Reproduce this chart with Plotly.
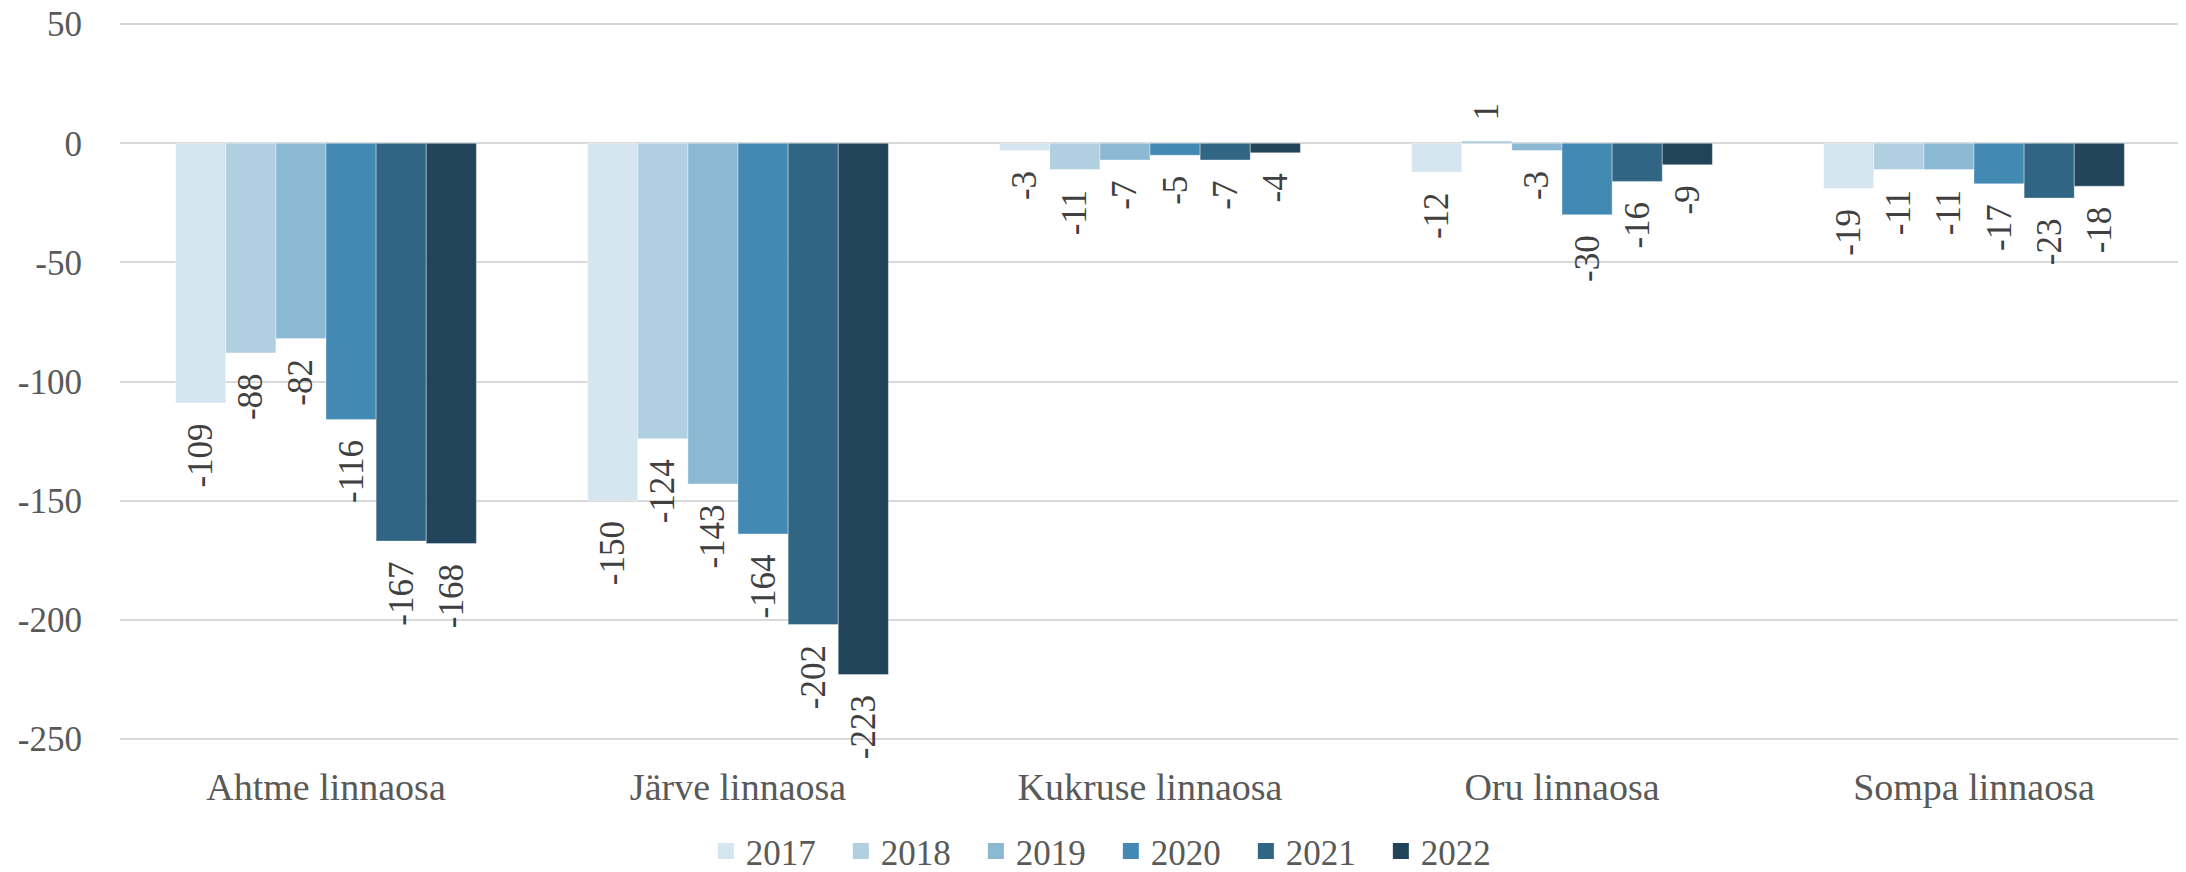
import plotly.graph_objects as go

# Linnaosad ja aastad
districts = ["Ahtme linnaosa", "Järve linnaosa", "Kukruse linnaosa", "Oru linnaosa", "Sompa linnaosa"]
years = ["2017", "2018", "2019", "2020", "2021", "2022"]

# väärtused aastate kaupa (linnaosade järjekorras)
v2017 = [-109, -150, -3, -12, -19]
v2018 = [-88, -124, -11, 1, -11]
v2019 = [-82, -143, -7, -3, -11]
v2020 = [-116, -164, -5, -30, -17]
v2021 = [-167, -202, -7, -16, -23]
v2022 = [-168, -223, -4, -9, -18]

y_ticks = [50, 0, -50, -100, -150, -200, -250]

series = [v2017, v2018, v2019, v2020, v2021, v2022]
colors = ["#D6E6F0", "#B0CFE1", "#8BB8D3", "#4289B4", "#306683", "#21445A"]

FONT = "Liberation Serif"
NB = "\u00a0"


def label(v):
    # väike vahe tulba otsa ja sildi vahel
    return f"{v}{NB}{NB}" if v < 0 else f"{NB}{NB}{v}"


fig = go.Figure()

for year, vals, col in zip(years, series, colors):
    fig.add_trace(go.Bar(
        x=districts,
        y=vals,
        name=year,
        legendgroup=year,
        showlegend=False,
        marker=dict(color=col, line=dict(color="rgba(255,255,255,0.35)", width=1)),
        text=[label(v) for v in vals],
        textposition="outside",
        textangle=-90,
        constraintext="none",
        cliponaxis=False,
        textfont=dict(family=FONT, size=35, color="#404040"),
    ))

# legendi ruudud
for year, col in zip(years, colors):
    fig.add_trace(go.Scatter(
        x=[None], y=[None],
        mode="markers",
        name=year,
        legendgroup=year,
        marker=dict(symbol="square", size=21, color=col),
        showlegend=True,
    ))

# lehe 8px ääris on arvestatud; telje ulatus veidi laiem, et 50 ja -250 joon jääks näha
fig.update_layout(
    width=2178,
    height=864,
    barmode="group",
    bargap=0.27,
    bargroupgap=0,
    plot_bgcolor="white",
    paper_bgcolor="white",
    margin=dict(l=112, r=6, t=15, b=132, autoexpand=False),
    font=dict(family=FONT, size=35, color="#595959"),
    xaxis=dict(
        showgrid=False,
        showline=False,
        ticks="",
        ticklabelstandoff=21,
        tickfont=dict(family=FONT, size=38, color="#595959"),
    ),
    yaxis=dict(
        range=[-250.5, 50.5],
        tickvals=y_ticks,
        ticktext=[str(t) for t in y_ticks],
        showgrid=True,
        gridcolor="#D9D9D9",
        gridwidth=2,
        zeroline=True,
        zerolinecolor="#D9D9D9",
        zerolinewidth=2,
        showline=False,
        ticks="",
        ticklabelstandoff=37,
        ticklabeloverflow="allow",
        tickfont=dict(family=FONT, size=35, color="#595959"),
    ),
    legend=dict(
        orientation="h",
        x=0.481,
        xanchor="center",
        y=-0.155,
        yanchor="middle",
        font=dict(family=FONT, size=35, color="#595959"),
        entrywidth=90,
        entrywidthmode="pixels",
        traceorder="normal",
    ),
    showlegend=True,
)

fig.write_html("out.html")
